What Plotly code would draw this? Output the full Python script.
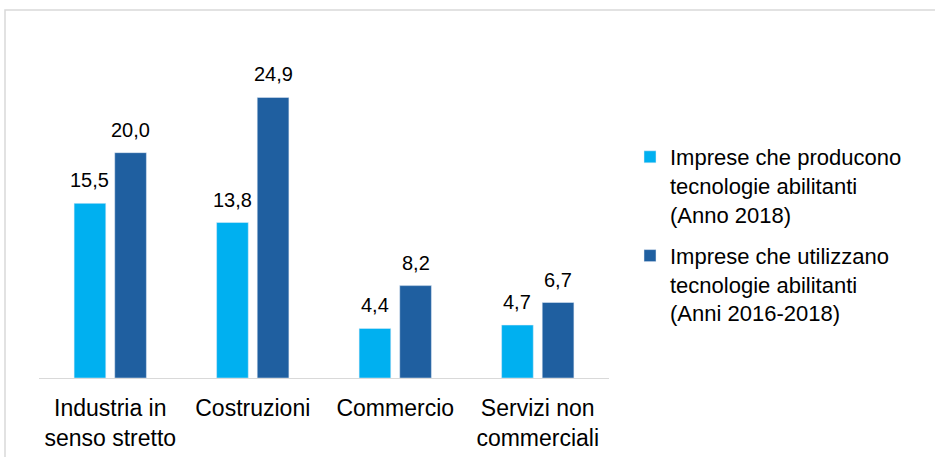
import plotly.graph_objects as go

categories = ["Industria in<br>senso stretto", "Costruzioni", "Commercio", "Servizi non<br>commerciali"]
series_names = [
    "Imprese che producono<br>tecnologie abilitanti<br>(Anno 2018)",
    "Imprese che utilizzano<br>tecnologie abilitanti<br>(Anni 2016-2018)",
]
producono = [15.5, 13.8, 4.4, 4.7]
utilizzano = [20.0, 24.9, 8.2, 6.7]
colors = ["#00B0F0", "#1F5FA0"]

def fmt(v):
    return f"{v:.1f}".replace(".", ",")

W, H = 935, 457
L, R, T, B = 39, 935 - 609, 40, 457 - 378
pw = W - L - R
ph = H - T - B

def px_x(x):  # page pixel -> paper
    return (x - L) / pw
def px_y(y):
    return (H - B - y) / ph

FONT = "Liberation Sans, Arial"

fig = go.Figure()
for i, (name, vals, col) in enumerate(zip(series_names, [producono, utilizzano], colors)):
    fig.add_trace(go.Bar(x=categories, y=vals, name=name, marker_color=col,
                         legendgroup=f"g{i}"))

bargap, bargroupgap = 0.43, 0.22
slot = pw / len(categories)
groupw = slot * (1 - bargap)
shift = groupw / 4
annotations = []
for k, vals in enumerate([producono, utilizzano]):
    for c, v in zip(categories, vals):
        annotations.append(dict(
            x=c, y=v, xref="x", yref="y", text=fmt(v), showarrow=False,
            xanchor="center", yanchor="bottom", xshift=(-shift if k == 0 else shift),
            yshift=10, font=dict(size=20, color="#000000", family=FONT)))

fig.update_layout(
    width=W, height=H,
    margin=dict(l=L, r=R, t=T, b=B, pad=0, autoexpand=False),
    paper_bgcolor="white", plot_bgcolor="white",
    barmode="group", bargap=bargap, bargroupgap=bargroupgap,
    font=dict(family=FONT, size=22, color="#000000"),
    xaxis=dict(showline=True, linecolor="#D9D9D9", linewidth=1, ticks="outside",
               ticklen=9, tickcolor="rgba(0,0,0,0)", automargin=False,
               tickfont=dict(size=23, color="#000000"), showgrid=False),
    yaxis=dict(range=[0, 30], visible=False, showgrid=False, zeroline=False,
               automargin=False),
    showlegend=True,
    legend=dict(x=px_x(630), y=px_y(136), xanchor="left", yanchor="top",
                valign="top",
                font=dict(size=22, color="#000000"), tracegroupgap=10,
                itemwidth=30, bgcolor="rgba(0,0,0,0)"),
    annotations=annotations,
    shapes=[dict(type="rect", xref="paper", yref="paper",
                 x0=px_x(5), x1=px_x(1000), y0=px_y(500), y1=px_y(10),
                 line=dict(color="#D9D9D9", width=1.5), layer="below")],
)
fig.write_html("out.html", config={"displayModeBar": False},
               post_script="document.body.style.margin='0px';")
